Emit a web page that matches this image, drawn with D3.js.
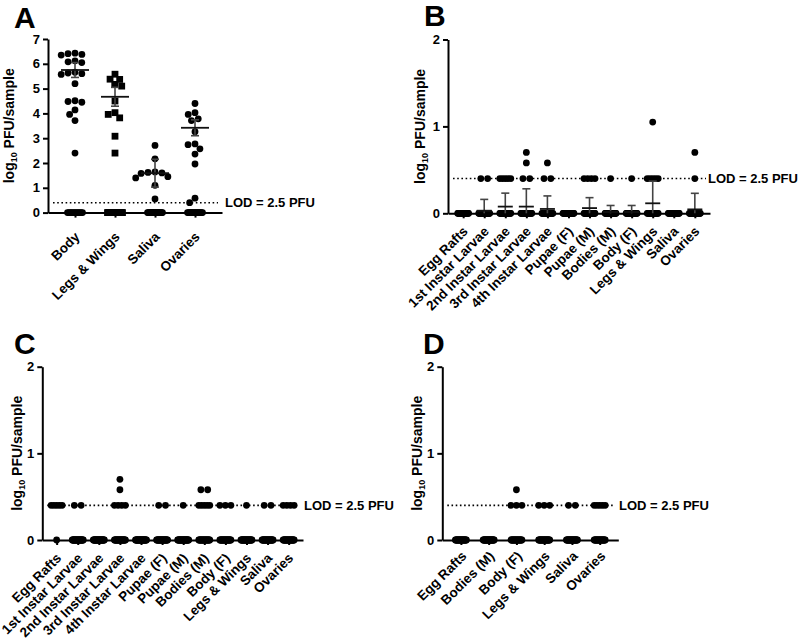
<!DOCTYPE html>
<html>
<head>
<meta charset="utf-8">
<script src="https://cdn.jsdelivr.net/npm/d3@7"></script>
<style>
  body { margin: 0; background: #fff; }
  svg { display: block; }
  text { font-family: "Liberation Sans", Arial, sans-serif; font-weight: bold; fill: #000; }
</style>
</head>
<body>
<svg width="800" height="639"></svg>
<script>
var LOD = 0.4; // log10(2.5 PFU)

// ---- Panel A ----
var catsA = ["Body", "Legs & Wings", "Saliva", "Ovaries"];
var detectedA = [
  [6.43, 6.41, 6.38, 6.35, 6.12, 6.08, 6.05, 5.66, 5.63, 5.6, 5.57, 5.2, 4.51, 4.48, 4.45, 4.14, 3.96, 3.71, 2.4],
  [5.58, 5.38, 5.37, 5.17, 5.1, 4.5, 4.03, 3.96, 3.82, 3.08, 2.4],
  [2.71, 2.17, 1.64, 1.62, 1.6, 1.58, 1.45, 1.4, 1.1, 0.55],
  [4.4, 4.03, 3.96, 3.78, 3.71, 3.26, 2.77, 2.74, 2.57, 2.36, 1.96, 0.58, 0.4]
];
var zerosA = [12, 18, 20, 16];
var meanA = [5.75, 4.67, 1.59, 3.42];
var errA = [0.3, 0.38, 0.56, 0.32];

// ---- Panel B ----
var catsB = ["Egg Rafts", "1st Instar Larvae", "2nd Instar Larvae", "3rd Instar Larvae",
  "4th Instar Larvae", "Pupae (F)", "Pupae (M)", "Bodies (M)", "Body (F)",
  "Legs & Wings", "Saliva", "Ovaries"];
var detectedB = [
  [], [0.4, 0.4], [0.4, 0.4, 0.4, 0.4, 0.4], [0.7, 0.58, 0.4, 0.4], [0.58, 0.4, 0.4],
  [], [0.4, 0.4, 0.4, 0.4], [0.4], [0.4], [1.05, 0.4, 0.4, 0.4, 0.4, 0.4], [], [0.7, 0.4]
];
var zerosB = [20, 25, 21, 23, 22, 25, 24, 26, 26, 17, 22, 25];
var meanB = [0, 0.03, 0.077, 0.077, 0.05, 0, 0.06, 0.015, 0.015, 0.115, 0, 0.045];
var errB = [0, 0.13, 0.155, 0.205, 0.15, 0, 0.12, 0.075, 0.075, 0.255, 0, 0.185];

// ---- Panel C ----
var catsC = catsB;
var detectedC = [
  [0.4, 0.4, 0.4, 0.4, 0.4], [0.4, 0.4], [], [0.7, 0.58, 0.4, 0.4, 0.4, 0.4], [],
  [0.4, 0.4], [0.4], [0.58, 0.58, 0.4, 0.4, 0.4, 0.4, 0.4], [0.4, 0.4, 0.4], [0.4], [0.4, 0.4], [0.4, 0.4, 0.4, 0.4]
];
var zerosC = [1, 24, 25, 22, 25, 23, 24, 20, 22, 24, 23, 22];

// ---- Panel D ----
var catsD = ["Egg Rafts", "Bodies (M)", "Body (F)", "Legs & Wings", "Saliva", "Ovaries"];
var detectedD = [
  [], [], [0.58, 0.4, 0.4, 0.4], [0.4, 0.4, 0.4], [0.4, 0.4], [0.4, 0.4, 0.4, 0.4, 0.4]
];
var zerosD = [22, 24, 20, 22, 23, 20];

var svg = d3.select("svg");
var r = 3.4; // dot radius

var panels = [
  { letter: "A", lx: 14, ly: 28, cats: catsA, det: detectedA, zeros: zerosA, mean: meanA, err: errA,
    x0: 48, x1: 222, pad: 0.675, yTop: 39, yBot: 212.6, ymax: 7, squares: [false, true, false, false],
    labelX: 13.5, span: 15, meanW: 14, capW: 4, lodX: 225, catOff: [5, 25] },
  { letter: "B", lx: 424, ly: 26, cats: catsB, det: detectedB, zeros: zerosB, mean: meanB, err: errB,
    x0: 448, x1: 710, pad: 0.72, yTop: 39.5, yBot: 213.3, ymax: 2,
    labelX: 424.5, span: 11, meanW: 7.5, capW: 4, lodX: 708, catOff: [5, 19] },
  { letter: "C", lx: 14, ly: 354, cats: catsC, det: detectedC, zeros: zerosC,
    x0: 42.3, x1: 303, pad: 0.68, yTop: 366.7, yBot: 540, ymax: 2,
    labelX: 22, span: 11, lodX: 304, catOff: [5, 19] },
  { letter: "D", lx: 423, ly: 354, cats: catsD, det: detectedD, zeros: zerosD,
    x0: 442.3, x1: 618.3, pad: 0.67, yTop: 366.7, yBot: 540, ymax: 2,
    labelX: 422, span: 11, lodX: 619, catOff: [6, 17] }
];

// place equal values side by side in a row, lone values swarm around the centre
function layout(vals, y, d, step, span) {
  var groups = d3.groups(vals, v => v).sort((a, b) => b[0] - a[0]);
  var placed = [];
  groups.forEach(([v, arr]) => {
    var n = arr.length, yy = y(v);
    if (n > 1) {
      var s = Math.min(step, span / (n - 1));
      arr.forEach((_, i) => placed.push({ v: v, y: yy, dx: (i - (n - 1) / 2) * s }));
    } else {
      var cands = [0];
      placed.forEach(p => {
        var dy = Math.abs(p.y - yy);
        if (dy < d) { var w = Math.sqrt(d * d - dy * dy); cands.push(p.dx - w, p.dx + w); }
      });
      cands.sort((a, b) => Math.abs(a) - Math.abs(b));
      var dx = cands.find(c => placed.every(p => {
        var a = p.y - yy, b = p.dx - c;
        return a * a + b * b >= d * d - 0.01;
      }));
      placed.push({ v: v, y: yy, dx: dx });
    }
  });
  return placed;
}

panels.forEach(function (P) {
  var g = svg.append("g");

  var x = d3.scalePoint().domain(P.cats).range([P.x0, P.x1]).padding(P.pad);
  var y = d3.scaleLinear().domain([0, P.ymax]).range([P.yBot, P.yTop]);

  // LOD dotted line
  g.append("line")
    .attr("x1", P.x0 + 5).attr("x2", P.x1 - 4)
    .attr("y1", y(LOD)).attr("y2", y(LOD))
    .attr("stroke", "#000").attr("stroke-width", 1.6)
    .attr("stroke-dasharray", "1.6,2.6");
  g.append("text")
    .attr("x", P.lodX).attr("y", y(LOD)).attr("dy", "0.36em")
    .attr("font-size", 13).text("LOD = 2.5 PFU");

  // axes
  var ya = g.append("g").attr("transform", "translate(" + P.x0 + ",0)")
    .call(d3.axisLeft(y).ticks(P.ymax).tickFormat(d3.format("d")).tickSize(5).tickSizeOuter(0).tickPadding(3));
  var xa = g.append("g").attr("transform", "translate(0," + P.yBot + ")")
    .call(d3.axisBottom(x).tickSize(5).tickSizeOuter(0));
  [ya, xa].forEach(a => {
    a.attr("font-family", null);
    a.select(".domain").attr("stroke-width", 2);
    a.selectAll(".tick line").attr("stroke-width", 2);
    a.selectAll("text").attr("font-size", 13);
  });
  xa.selectAll(".tick text")
    .attr("x", 0).attr("y", 0).attr("dy", 0)
    .attr("font-size", 13.5)
    .attr("text-anchor", "end")
    .attr("transform", "translate(" + P.catOff[0] + "," + P.catOff[1] + ") rotate(-45)");

  // y label
  var lab = g.append("text")
    .attr("transform", "translate(" + P.labelX + "," + ((P.yTop + P.yBot) / 2) + ") rotate(-90)")
    .attr("text-anchor", "middle").attr("font-size", 14);
  lab.append("tspan").text("log");
  lab.append("tspan").attr("font-size", 9).attr("dy", 3).text("10");
  lab.append("tspan").attr("dy", -3).text(" PFU/sample");

  // panel letter
  svg.append("text").attr("x", P.lx).attr("y", P.ly)
    .attr("font-size", 30).text(P.letter);

  // points
  P.cats.forEach(function (c, i) {
    var vals = P.det[i].concat(d3.range(P.zeros[i]).map(() => 0));
    var pts = layout(vals, y, 2 * r + 0.2, 6.8, P.span);
    var cx = x(c);
    var sq = P.squares && P.squares[i];
    pts.forEach(p => {
      if (sq) {
        g.append("rect").attr("x", cx + p.dx - r).attr("y", p.y - r)
          .attr("width", 2 * r).attr("height", 2 * r).attr("fill", "#000");
      } else {
        g.append("circle").attr("cx", cx + p.dx).attr("cy", p.y).attr("r", r).attr("fill", "#000");
      }
    });

    // mean and error bar
    if (P.mean && P.mean[i] > 0) {
      var m = P.mean[i], e = P.err[i];
      var lo = Math.max(0, m - e), hi = m + e;
      var eb = g.append("g").attr("stroke", "#444").attr("stroke-width", 1.6);
      eb.append("line").attr("x1", cx).attr("x2", cx).attr("y1", y(lo)).attr("y2", y(hi));
      eb.append("line").attr("x1", cx - P.capW).attr("x2", cx + P.capW).attr("y1", y(hi)).attr("y2", y(hi));
      if (m - e > 0) eb.append("line").attr("x1", cx - P.capW).attr("x2", cx + P.capW).attr("y1", y(lo)).attr("y2", y(lo));
      g.append("line").attr("x1", cx - P.meanW).attr("x2", cx + P.meanW)
        .attr("y1", y(m)).attr("y2", y(m)).attr("stroke", "#111").attr("stroke-width", 1.8);
    }
  });
});
</script>
</body>
</html>
